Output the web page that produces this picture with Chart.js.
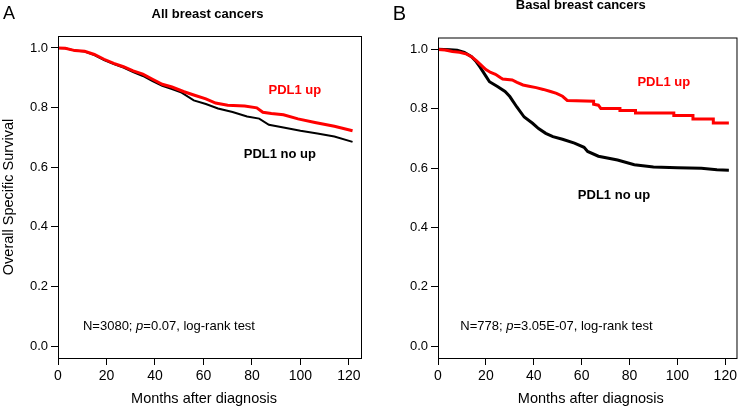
<!DOCTYPE html>
<html>
<head>
<meta charset="utf-8">
<script src="https://cdn.jsdelivr.net/npm/chart.js@4.4.0/dist/chart.umd.min.js"></script>
<style>
html, body { margin: 0; padding: 0; background: #fff; }
#wrap { position: relative; width: 740px; height: 410px; }
#cA { position: absolute; left: 0; top: 0; }
#cB { position: absolute; left: 370px; top: 0; }
</style>
</head>
<body>
<div id="wrap">
	<canvas id="cA" width="370" height="410"></canvas>
	<canvas id="cB" width="370" height="410"></canvas>
</div>
<script>
var FONT = "'Liberation Sans', Arial, sans-serif";

// tick labels
var xTicks = [0, 20, 40, 60, 80, 100, 120];
var yTicks = [0, 0.2, 0.4, 0.6, 0.8, 1.0];

// A: all breast cancers (months, survival)
var allUpMonths = [0, 3, 7, 11, 15, 19, 23, 27, 31, 35, 39, 43, 47, 52, 56, 61, 65, 70, 77, 82, 84.5, 88, 93, 99, 106, 114, 121.5];
var allUpSurv   = [1.0, 0.999, 0.991, 0.989, 0.978, 0.962, 0.948, 0.937, 0.923, 0.912, 0.895, 0.878, 0.869, 0.853, 0.842, 0.829, 0.815, 0.808, 0.805, 0.799, 0.784, 0.780, 0.776, 0.762, 0.750, 0.737, 0.722];
var allNoMonths = [0, 3, 7, 11, 15, 19, 23, 27, 31, 35, 39, 43, 47, 51, 56, 61, 66, 72, 78, 83, 87, 93, 100, 107, 114, 121.5];
var allNoSurv   = [1.0, 0.999, 0.991, 0.988, 0.976, 0.959, 0.946, 0.934, 0.919, 0.906, 0.889, 0.873, 0.862, 0.850, 0.824, 0.812, 0.797, 0.785, 0.770, 0.763, 0.742, 0.733, 0.722, 0.713, 0.703, 0.685];

// B: basal breast cancers (months, survival); repeated months are the KM drops
var basalUpMonths = [0, 3, 6, 9, 12, 14, 16, 18, 20, 22, 24, 26, 27, 31, 33, 35.5, 38, 41, 44, 47, 49.5, 52, 54, 65, 65, 67, 68, 76, 76, 82.5, 82.5, 98.5, 98.5, 106.5, 106.5, 115, 115, 121.5];
var basalUpSurv   = [1.0, 0.998, 0.993, 0.990, 0.984, 0.975, 0.962, 0.947, 0.932, 0.922, 0.916, 0.905, 0.900, 0.897, 0.889, 0.880, 0.876, 0.871, 0.865, 0.858, 0.852, 0.842, 0.828, 0.825, 0.815, 0.812, 0.801, 0.801, 0.794, 0.794, 0.786, 0.786, 0.777, 0.777, 0.765, 0.765, 0.752, 0.752];
var basalNoMonths = [0, 5, 8, 11, 14, 16, 17.5, 20, 21.5, 25, 28, 30, 33, 36, 39.5, 42, 45, 48, 52, 57, 61, 62.5, 67, 75, 82, 90, 100, 110, 116.5, 121.5];
var basalNoSurv   = [1.0, 0.999, 0.997, 0.990, 0.975, 0.958, 0.941, 0.910, 0.891, 0.874, 0.858, 0.841, 0.805, 0.772, 0.751, 0.733, 0.717, 0.706, 0.697, 0.684, 0.670, 0.656, 0.640, 0.627, 0.611, 0.604, 0.601, 0.599, 0.594, 0.593];

function pts(m, v) {
	return m.map(function(x, i) { return {x: x, y: v[i]}; });
}

// box round the plot area
var framePlugin = {
	id: 'frame',
	afterDraw: function(chart) {
		var a = chart.chartArea, ctx = chart.ctx;
		ctx.save();
		ctx.strokeStyle = '#000';
		ctx.lineWidth = 1;
		ctx.strokeRect(a.left + 0.5, a.top + 0.5, a.right - a.left - 1, a.bottom - a.top);
		ctx.restore();
	}
};

// texts: pixel ones (panel letter, titles) and data ones (curve labels, stats)
var textPlugin = {
	id: 'texts',
	afterDraw: function(chart, args, opts) {
		var ctx = chart.ctx, xs = chart.scales.x, ys = chart.scales.y;
		ctx.save();
		(opts.items || []).forEach(function(t) {
			var px = t.data ? xs.getPixelForValue(t.x) : t.x;
			var py = t.data ? ys.getPixelForValue(t.y) : t.y;
			ctx.fillStyle = t.color || '#000';
			ctx.textBaseline = 'alphabetic';
			var parts = t.parts || [{text: t.text}];
			var w = 0;
			parts.forEach(function(p) {
				ctx.font = (p.italic ? 'italic ' : '') + (t.weight || 'normal') + ' ' + t.size + 'px ' + FONT;
				p.w = ctx.measureText(p.text).width;
				w += p.w;
			});
			var x0 = t.align === 'center' ? px - w / 2 : px;
			ctx.textAlign = 'left';
			parts.forEach(function(p) {
				ctx.font = (p.italic ? 'italic ' : '') + (t.weight || 'normal') + ' ' + t.size + 'px ' + FONT;
				ctx.fillText(p.text, x0, py);
				x0 += p.w;
			});
		});
		ctx.restore();
	}
};

function makeChart(id, datasets, cfg) {
	return new Chart(document.getElementById(id), {
		type: 'line',
		data: { datasets: datasets },
		options: {
			responsive: false,
			animation: false,
			layout: { padding: { top: cfg.top, right: cfg.right, left: 0, bottom: 0 } },
			elements: { point: { radius: 0 }, line: { tension: 0 } },
			plugins: {
				legend: { display: false },
				tooltip: { enabled: false },
				texts: { items: cfg.texts }
			},
			scales: {
				x: {
					type: 'linear',
					min: 0,
					max: cfg.xmax,
					afterBuildTicks: function(s) { s.ticks = xTicks.map(function(v) { return {value: v}; }); },
					afterFit: function(s) { s.height = 52; },
					ticks: { autoSkip: false, maxRotation: 0, padding: 3, color: '#000', font: { family: FONT, size: 14 } },
					grid: { drawOnChartArea: false, drawTicks: true, tickLength: 7, color: '#000' },
					border: { display: false }
				},
				y: {
					type: 'linear',
					min: -0.04,
					max: 1.04,
					afterBuildTicks: function(s) { s.ticks = yTicks.map(function(v) { return {value: v}; }); },
					afterFit: function(s) { s.width = cfg.yw; },
					ticks: { padding: 3, color: '#000', font: { family: FONT, size: 13 },
						callback: function(v) { return v.toFixed(1); } },
					grid: { drawOnChartArea: false, drawTicks: true, tickLength: 7, color: '#000' },
					border: { display: false },
					title: { display: cfg.ytitle, text: 'Overall Specific Survival', color: '#000', font: { family: FONT, size: 14.5 }, padding: { top: 0, bottom: 0 } }
				}
			}
		},
		plugins: [framePlugin, textPlugin]
	});
}

makeChart('cA', [
	{ data: pts(allUpMonths, allUpSurv), borderColor: '#ff0000', borderWidth: 3 },
	{ data: pts(allNoMonths, allNoSurv), borderColor: '#000000', borderWidth: 2 }
], {
	top: 36, right: 8, yw: 58, xmax: 125.4, ytitle: true,
	texts: [
		{ text: 'A', x: 3, y: 19.3, size: 18 },
		{ text: 'All breast cancers', x: 207.5, y: 17.7, size: 13, weight: 'bold', align: 'center' },
		{ text: 'Months after diagnosis', x: 204, y: 402.5, size: 14.5, align: 'center' },
		{ text: 'PDL1 up', data: true, x: 97.7, y: 0.847, size: 13, weight: 'bold', align: 'center', color: '#ff0000' },
		{ text: 'PDL1 no up', data: true, x: 91.5, y: 0.631, size: 13, weight: 'bold', align: 'center' },
		{ data: true, x: 10.3, y: 0.053, size: 13,
			parts: [{text: 'N=3080; '}, {text: 'p', italic: true}, {text: '=0.07, log-rank test'}] }
	]
});

makeChart('cB', [
	{ data: pts(basalUpMonths, basalUpSurv), borderColor: '#ff0000', borderWidth: 3 },
	{ data: pts(basalNoMonths, basalNoSurv), borderColor: '#000000', borderWidth: 3 }
], {
	top: 37.5, right: 1, yw: 68, xmax: 125.1, ytitle: false,
	texts: [
		{ text: 'B', x: 22.7, y: 20, size: 20 },
		{ text: 'Basal breast cancers', x: 210.8, y: 9.3, size: 13, weight: 'bold', align: 'center' },
		{ text: 'Months after diagnosis', x: 220.8, y: 402.5, size: 14.5, align: 'center' },
		{ text: 'PDL1 up', data: true, x: 94.3, y: 0.876, size: 13, weight: 'bold', align: 'center', color: '#ff0000' },
		{ text: 'PDL1 no up', data: true, x: 73.5, y: 0.495, size: 13, weight: 'bold', align: 'center' },
		{ data: true, x: 9.3, y: 0.053, size: 13,
			parts: [{text: 'N=778; '}, {text: 'p', italic: true}, {text: '=3.05E-07, log-rank test'}] }
	]
});
</script>
</body>
</html>
